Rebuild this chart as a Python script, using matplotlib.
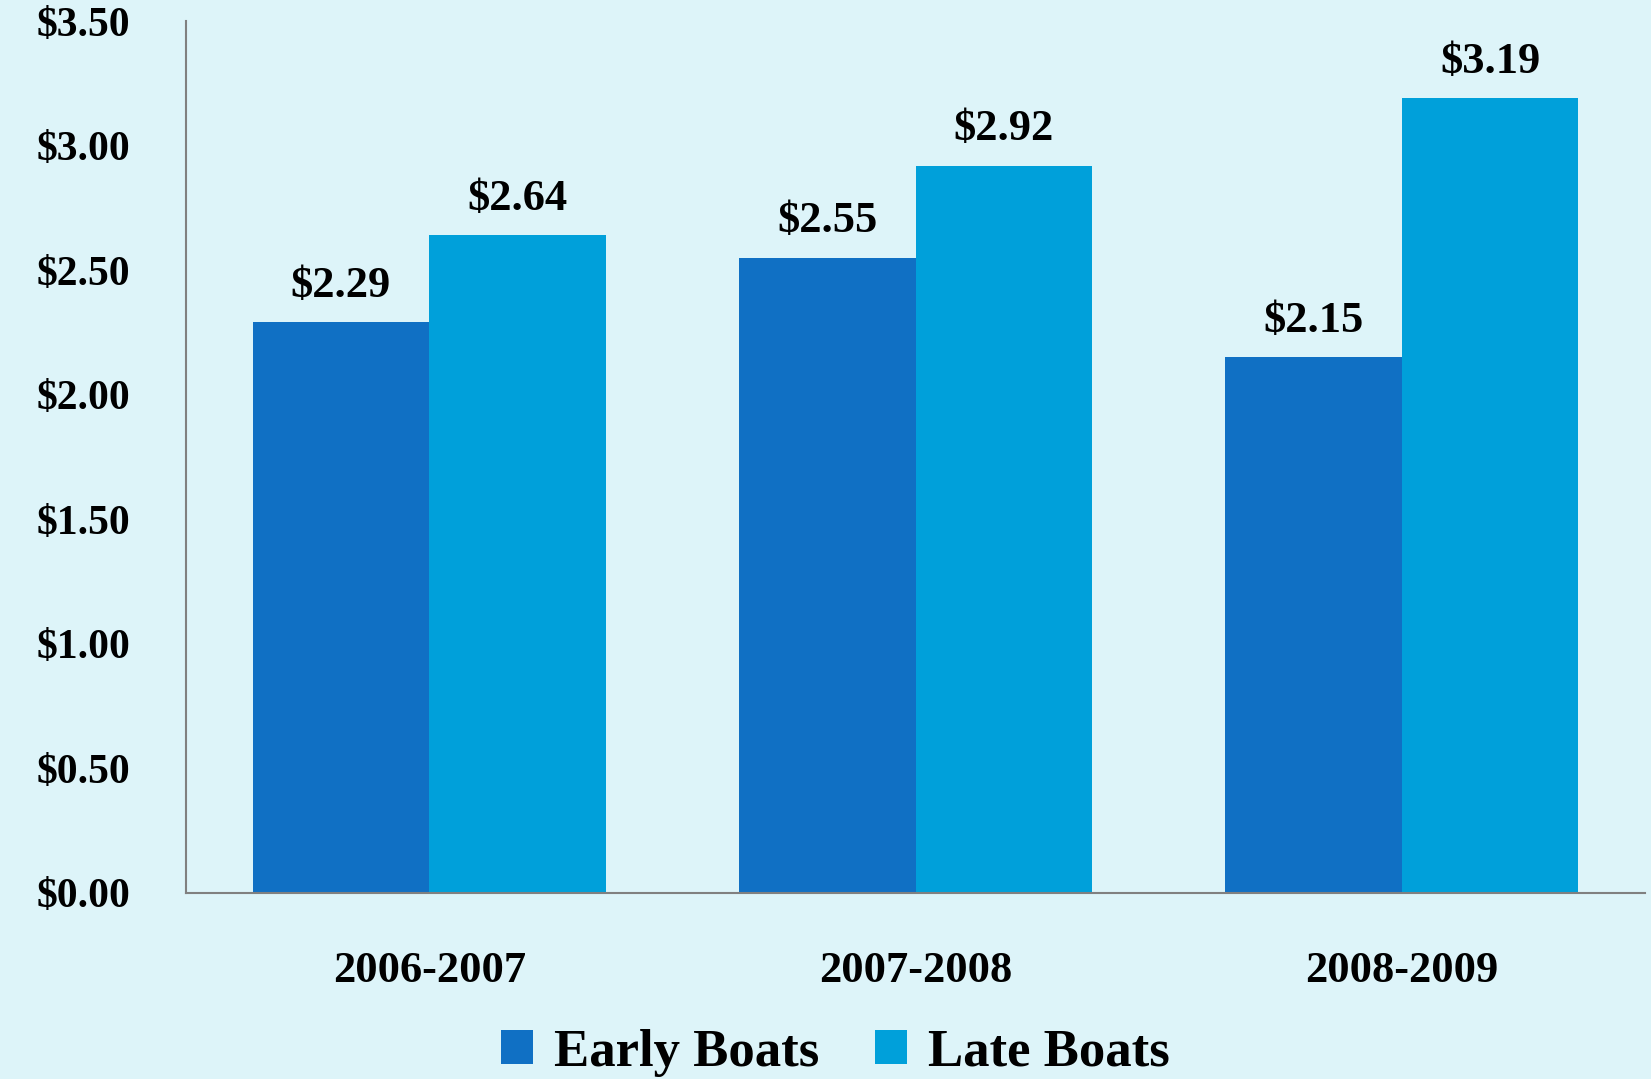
import numpy as np
import matplotlib.pyplot as plt

seasons = ["2006-2007", "2007-2008", "2008-2009"]
early_boats = [2.29, 2.55, 2.15]
late_boats = [2.64, 2.92, 3.19]
y_ticks = [0.0, 0.5, 1.0, 1.5, 2.0, 2.5, 3.0, 3.5]

BG = "#DDF4F9"
EARLY = "#1070C4"
LATE = "#00A0DA"
FONT = ["Liberation Serif", "DejaVu Serif"]


def main():
    plt.rcParams["font.family"] = FONT
    plt.rcParams["font.weight"] = "bold"

    fig = plt.figure(figsize=(16.51, 10.79), dpi=100, facecolor=BG)
    ax = fig.add_axes([0.1127, 0.1724, 0.8837, 0.8081])
    ax.set_facecolor(BG)

    x = np.arange(len(seasons))
    w = 0.363
    b1 = ax.bar(x - w / 2, early_boats, w, color=EARLY, label="Early Boats")
    b2 = ax.bar(x + w / 2, late_boats, w, color=LATE, label="Late Boats")

    for bars, vals in ((b1, early_boats), (b2, late_boats)):
        for rect, v in zip(bars, vals):
            ax.annotate(
                f"${v:.2f}",
                (rect.get_x() + rect.get_width() / 2, v),
                xytext=(0, 12),
                textcoords="offset points",
                ha="center",
                va="bottom",
                fontsize=32,
                fontweight="bold",
            )

    ax.set_xlim(-0.5, 2.5)
    ax.set_ylim(0, 3.5)
    ax.set_yticks(y_ticks)
    ax.set_yticklabels([f"${v:.2f}" for v in y_ticks])
    ax.set_xticks(x)
    ax.set_xticklabels(seasons)
    ax.tick_params(axis="y", length=0, pad=40, labelsize=30)
    ax.tick_params(axis="x", length=0, pad=42, labelsize=32)

    for s in ("top", "right"):
        ax.spines[s].set_visible(False)
    for s in ("left", "bottom"):
        ax.spines[s].set_color("#808080")
        ax.spines[s].set_linewidth(1.5)

    fig.legend(
        handles=[b1, b2],
        loc="lower center",
        bbox_to_anchor=(0.506, -0.042),
        ncol=2,
        frameon=False,
        fontsize=38,
        handlelength=0.6,
        handleheight=0.6,
        handletextpad=0.4,
        columnspacing=1.05,
    )

    fig.savefig("out.png", dpi=100, facecolor=BG)


if __name__ == "__main__":
    main()
